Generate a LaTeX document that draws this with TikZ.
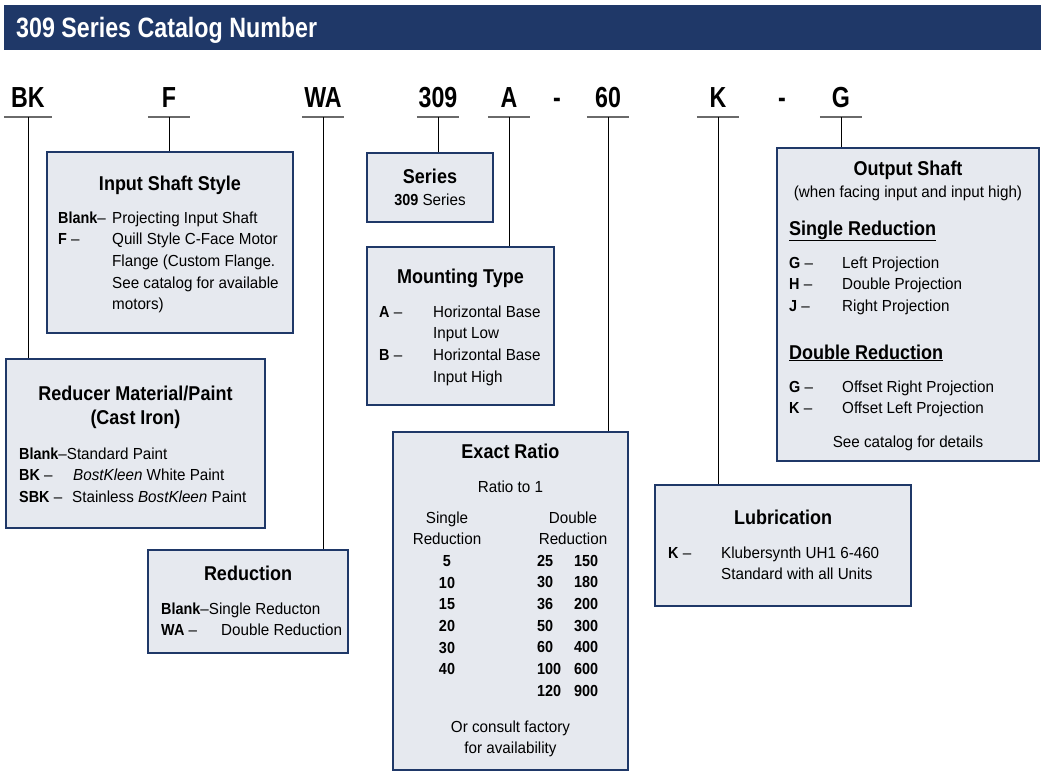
\documentclass[tikz,border=0pt]{standalone}
\usepackage{fontspec}
\setmainfont{Liberation Sans}[FakeStretch=0.95, BoldFeatures={FakeStretch=0.9}]
\newfontfamily\codefont{Liberation Sans}[FakeStretch=0.8]
\newfontfamily\headfont{Liberation Sans}[FakeStretch=0.83]
\usepackage{array}
\definecolor{navy}{HTML}{1F3868}
\definecolor{boxfill}{HTML}{E6E9EF}
\definecolor{ulgray}{HTML}{6A6A6A}

\begin{document}
\begin{tikzpicture}[x=1pt, y=-1pt,
    box/.style={draw=navy, line width=2pt, fill=boxfill, inner sep=0pt},
    ttl/.style={font=\fontsize{20}{24}\selectfont\bfseries, anchor=base, inner sep=0pt},
    txt/.style={font=\fontsize{16}{21.7}\selectfont, inner sep=0pt},
    code/.style={font=\codefont\bfseries\fontsize{29}{30}\selectfont, anchor=base, inner sep=0pt, minimum width=42pt},
    uline/.style={draw=ulgray, line width=1.8pt},
    link/.style={draw=black, line width=1pt}]

    \useasboundingbox (0,0) rectangle (1045,782);

    % header
    \node[fill=navy, inner sep=0pt, minimum width=1037pt, minimum height=45pt] (bar) at (522.5,27.5) {};
    \node[anchor=base west, inner sep=0pt, text=white, font=\headfont\bfseries\fontsize{28}{30}\selectfont] (hdr) at (16,37) {309 Series Catalog Number};

    % catalog number
    \node[code, minimum width=48pt] (cBK) at (28,107) {BK};
    \node[code] (cF) at (169,107) {F};
    \node[code] (cWA) at (323,107) {WA};
    \node[code] (c309) at (438,107) {309};
    \node[code] (cA) at (509,107) {A};
    \node[code] (dashA) at (557,107) {-};
    \node[code] (c60) at (608,107) {60};
    \node[code] (cK) at (718,107) {K};
    \node[code] (dashK) at (782,107) {-};
    \node[code] (cG) at (841,107) {G};
    \foreach \c in {cBK,cF,cWA,c309,cA,c60,cK,cG}
        \draw[uline] ([yshift=-10pt]\c.base west) -- ([yshift=-10pt]\c.base east);

    % boxes
    \node[box, minimum width=246pt, minimum height=181pt] (inshaft) at (170,242.5) {};
    \node[box, minimum width=259pt, minimum height=169pt] (reducer) at (135.5,443.5) {};
    \node[box, minimum width=200pt, minimum height=103pt] (reduction) at (248,601.5) {};
    \node[box, minimum width=126pt, minimum height=69pt] (series) at (430,187.5) {};
    \node[box, minimum width=187pt, minimum height=158pt] (mounting) at (460.5,326) {};
    \node[box, minimum width=235pt, minimum height=338pt] (ratio) at (510.5,601) {};
    \node[box, minimum width=256pt, minimum height=121pt] (lube) at (783,545.5) {};
    \node[box, minimum width=262pt, minimum height=313pt] (output) at (908,304.5) {};

    % leaders
    \draw[link] ([yshift=-10pt]cBK.base) -- (cBK.base |- reducer.north);
    \draw[link] ([yshift=-10pt]cF.base) -- (cF.base |- inshaft.north);
    \draw[link] ([yshift=-10pt]cWA.base) -- (cWA.base |- reduction.north);
    \draw[link] ([yshift=-10pt]c309.base) -- (c309.base |- series.north);
    \draw[link] ([yshift=-10pt]cA.base) -- (cA.base |- mounting.north);
    \draw[link] ([yshift=-10pt]c60.base) -- (c60.base |- ratio.north);
    \draw[link] ([yshift=-10pt]cK.base) -- (cK.base |- lube.north);
    \draw[link] ([yshift=-10pt]cG.base) -- (cG.base |- output.north);

    % input shaft style
    \node[ttl] (inshaft-t) at (170,190) {Input Shaft Style};
    \node[txt, anchor=base west] (inshaft-b) at (58,223) {\begin{tabular}[t]{@{}p{54pt}@{}l@{}}
        \textbf{Blank}–&Projecting Input Shaft\\
        \textbf{F} –&Quill Style C-Face Motor\\
        &Flange (Custom Flange.\\
        &See catalog for available\\
        &motors)
    \end{tabular}};

    % reducer material
    \node[ttl] (reducer-t) at (135.5,400) {Reducer Material/Paint};
    \node[ttl] (reducer-t2) at (135.5,424) {(Cast Iron)};
    \node[txt, anchor=base west] (reducer-b) at (19,459) {\begin{tabular}[t]{@{}l@{}}
        \textbf{Blank}–Standard Paint\\
        \makebox[54pt][l]{\textbf{BK} –}\textit{BostKleen} White Paint\\
        \makebox[53pt][l]{\textbf{SBK} –}Stainless \textit{BostKleen} Paint
    \end{tabular}};

    % reduction
    \node[ttl] (reduction-t) at (248,580) {Reduction};
    \node[txt, anchor=base west] (reduction-b) at (161,614) {\begin{tabular}[t]{@{}l@{}}
        \textbf{Blank}–Single Reducton\\
        \makebox[60pt][l]{\textbf{WA} –}Double Reduction
    \end{tabular}};

    % series
    \node[ttl] (series-t) at (430,183) {Series};
    \node[txt, anchor=base] (series-b) at (430,205) {\textbf{309} Series};

    % mounting type
    \node[ttl] (mounting-t) at (460.5,283) {Mounting Type};
    \node[txt, anchor=base west] (mounting-b) at (379,317) {\begin{tabular}[t]{@{}p{54pt}@{}l@{}}
        \textbf{A} –&Horizontal Base\\
        &Input Low\\
        \textbf{B} –&Horizontal Base\\
        &Input High
    \end{tabular}};

    % exact ratio
    \node[ttl] (ratio-t) at (510.5,458) {Exact Ratio};
    \node[txt, anchor=base] (ratio-s) at (510.5,492) {Ratio to 1};
    \node[txt, anchor=base] (ratio-c1) at (447,523) {\begin{tabular}[t]{@{}c@{}}
        Single\\ Reduction\\ \textbf{5}\\ \textbf{10}\\ \textbf{15}\\ \textbf{20}\\ \textbf{30}\\ \textbf{40}
    \end{tabular}};
    \node[txt, anchor=base] (ratio-h2) at (573,523) {\begin{tabular}[t]{@{}c@{}}
        Double\\ Reduction
    \end{tabular}};
    \node[txt, anchor=base west, font=\fontsize{16}{21.7}\selectfont\bfseries] (ratio-c2) at (537,566) {\begin{tabular}[t]{@{}p{37pt}@{}l@{}}
        25&150\\ 30&180\\ 36&200\\ 50&300\\ 60&400\\ 100&600\\ 120&900
    \end{tabular}};
    \node[txt, anchor=base] (ratio-n) at (510.5,732) {\begin{tabular}[t]{@{}c@{}}
        Or consult factory\\ for availability
    \end{tabular}};

    % lubrication
    \node[ttl] (lube-t) at (783,524) {Lubrication};
    \node[txt, anchor=base west] (lube-b) at (668,558) {\begin{tabular}[t]{@{}p{53pt}@{}l@{}}
        \textbf{K} –&Klubersynth UH1 6-460\\
        &Standard with all Units
    \end{tabular}};

    % output shaft
    \node[ttl] (output-t) at (908,175) {Output Shaft};
    \node[txt, anchor=base] (output-s) at (908,197) {(when facing input and input high)};
    \node[ttl, anchor=base west] (output-h1) at (789,235) {\underline{Single Reduction}};
    \node[txt, anchor=base west] (output-b1) at (789,268) {\begin{tabular}[t]{@{}p{53pt}@{}l@{}}
        \textbf{G} –&Left Projection\\
        \textbf{H} –&Double Projection\\
        \textbf{J} –&Right Projection
    \end{tabular}};
    \node[ttl, anchor=base west] (output-h2) at (789,359) {\underline{Double Reduction}};
    \node[txt, anchor=base west] (output-b2) at (789,392) {\begin{tabular}[t]{@{}p{53pt}@{}l@{}}
        \textbf{G} –&Offset Right Projection\\
        \textbf{K} –&Offset Left Projection
    \end{tabular}};
    \node[txt, anchor=base] (output-n) at (908,447) {See catalog for details};
\end{tikzpicture}
\end{document}
